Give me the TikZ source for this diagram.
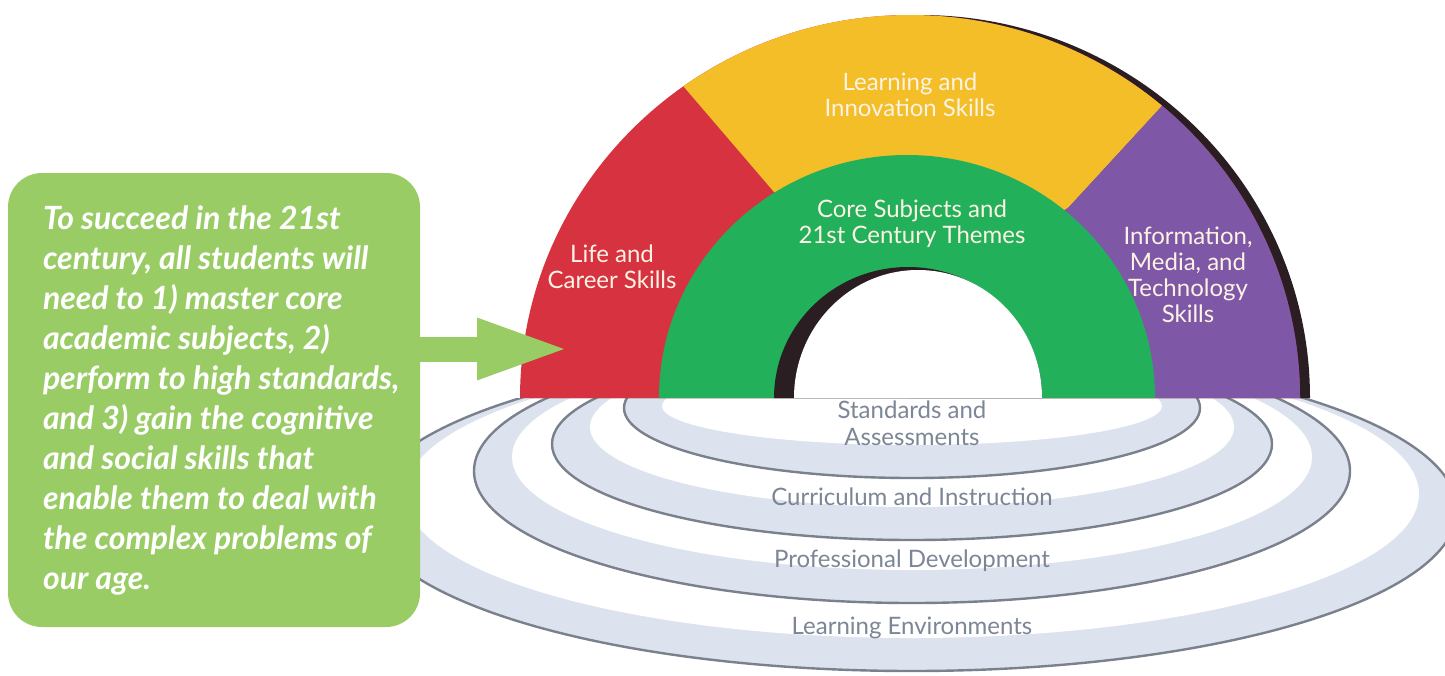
\documentclass[tikz,border=0pt]{standalone}
\usepackage{fontspec}
\usepackage{xcolor}
\usetikzlibrary{arrows.meta}
\newfontfamily\archfont{Lato}
\definecolor{lifered}{RGB}{215,50,64}
\definecolor{learnyellow}{RGB}{243,190,40}
\definecolor{coregreen}{RGB}{34,176,90}
\definecolor{infopurple}{RGB}{126,87,167}
\definecolor{archshadow}{RGB}{42,30,34}
\definecolor{ringfill}{RGB}{221,226,239}
\definecolor{ringline}{RGB}{122,128,140}
\definecolor{ringtext}{RGB}{124,134,150}
\definecolor{boxgreen}{RGB}{154,204,102}
\definecolor{archtext}{RGB}{252,243,228}

\tikzset{
  archlabel/.style={align=center, text=archtext, font=\archfont\fontsize{12}{13}\selectfont},
  ringlabel/.style={align=center, text=ringtext, font=\archfont\fontsize{12}{13.5}\selectfont},
  ringband/.style={fill=ringfill, draw=ringline, line width=1.2pt},
  goalbox/.style={fill=boxgreen, rounded corners=17pt, minimum width=206pt, minimum height=227pt, inner sep=0pt},
  goaltext/.style={align=left, text=white, inner sep=0pt, font=\archfont\bfseries\itshape\fontsize{16}{20}\selectfont}
}

\begin{document}
\begin{tikzpicture}[x=0.5pt,y=0.5pt]
\useasboundingbox (0,0) rectangle (1445,-675);

\begin{scope}
\clip (0,-398) rectangle (1445,-675); %floor below the arch
\filldraw[ringband] (912,-510) ellipse [x radius=545, y radius=161]; %ring 4
\fill[white] (912,-494) ellipse [x radius=507, y radius=144];
\filldraw[ringband] (912,-471) ellipse [x radius=438, y radius=132]; %3
\fill[white] (912,-457) ellipse [x radius=400, y radius=113];
\filldraw[ringband] (912,-444) ellipse [x radius=360, y radius=96]; %2
\fill[white] (912,-427) ellipse [x radius=322, y radius=80];
\filldraw[ringband] (912,-408) ellipse [x radius=288, y radius=70]; %1
\fill[white] (912,-406) ellipse [x radius=250, y radius=39];
\end{scope}

\node[ringlabel] (standards) at (912,-423) {Standards and\\Assessments};
\node[ringlabel] (curriculum) at (912,-497) {Curriculum and Instruction};
\node[ringlabel] (profdev) at (912,-561) {Professional Development};
\node[ringlabel] (environments) at (912,-628) {Learning Environments};

%arch
\fill[archshadow] (530,-398) arc[start angle=180, end angle=0, x radius=390, y radius=383] -- cycle;
\begin{scope}
\clip (520,-398) arc[start angle=180, end angle=0, x radius=390, y radius=383] -- cycle;
\fill[lifered] (500,-400) rectangle (1320,0);
\fill[learnyellow] (907,-300) -- (774,-192) -- (636,-31) -- (636,0) -- (1207,0) -- (1207,-57) -- (1068,-208) -- cycle;
\fill[infopurple] (907,-300) -- (1068,-208) -- (1207,-57) -- (1350,-57) -- (1350,-400) -- (907,-400) -- cycle;
\end{scope}
\fill[coregreen] (659,-398) arc[start angle=180, end angle=0, x radius=248, y radius=243] -- cycle;
\fill[archshadow] (774,-398) arc[start angle=180, end angle=0, x radius=134, y radius=131] -- cycle; %hole
\fill[white] (794,-398) arc[start angle=180, end angle=0, x radius=124, y radius=128] -- cycle;

\node[archlabel] (learning) at (910,-95) {Learning and\\Innovation Skills};
\node[archlabel] (life) at (612,-267) {Life and\\Career Skills};
\node[archlabel] (core) at (912,-224) {Core Subjects and\\21st Century Themes};
\node[archlabel] (info) at (1188,-275) {Information,\\Media, and\\Technology\\Skills};

%box and arrow
\node[goalbox] (goal) at (214,-400) {};
\node[goaltext, anchor=west] (goaltxt) at ([xshift=17.5pt]goal.west) {To succeed in the 21st\\century, all students will\\need to 1) master core\\academic subjects, 2)\\perform to high standards,\\and 3) gain the cognitive\\and social skills that\\enable them to deal with\\the complex problems of\\our age.};
\coordinate (arrowtip) at (573,-349);
\draw[boxgreen, line width=12.5pt, -{Triangle[length=48pt, width=27pt]}] (goal.east |- arrowtip) -- (arrowtip);
\end{tikzpicture}
\end{document}
